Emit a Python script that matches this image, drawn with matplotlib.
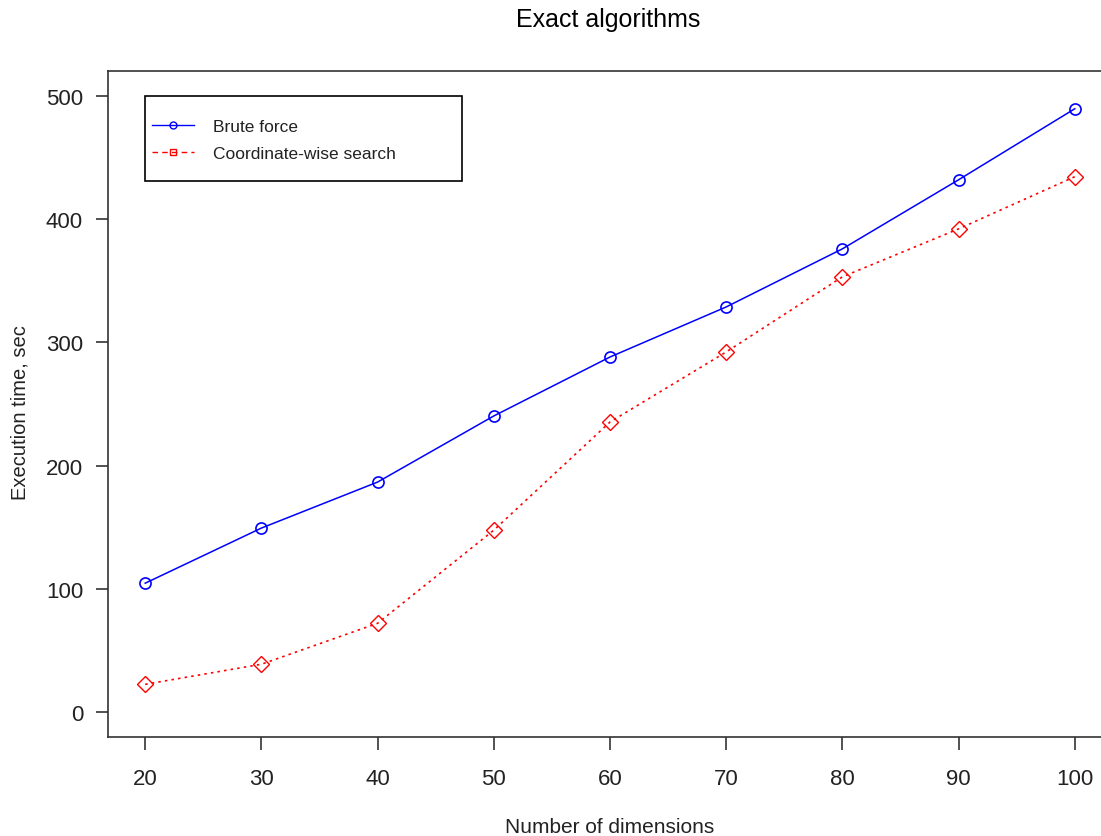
import matplotlib
matplotlib.use("Agg")
import matplotlib.pyplot as plt
from matplotlib.lines import Line2D
from matplotlib.patches import Rectangle

plt.rcParams['font.family'] = ['Liberation Sans', 'DejaVu Sans']

dims = [20, 30, 40, 50, 60, 70, 80, 90, 100]
brute_force = [104.7, 149.4, 186.7, 240.3, 288.1, 328.7, 375.8, 431.8, 489.4]
coord_search = [22.7, 39.0, 72.2, 147.7, 235.4, 292.2, 353.1, 392.0, 434.3]
x_ticks = [20, 30, 40, 50, 60, 70, 80, 90, 100]
y_ticks = [0, 100, 200, 300, 400, 500]

W, H = 1101, 837
fig = plt.figure(figsize=(W / 100, H / 100), dpi=100)
ax = fig.add_axes([108 / W, (H - 738) / H, (1112 - 108) / W, (738 - 72) / H])

ax.plot(dims, brute_force, color='blue', lw=1.1, marker='o', ms=8,
        mfc='none', mec='blue', mew=1.2)
ax.plot(dims, coord_search, color='red', lw=1.2, ls=(0, (1.5, 2.5)), marker='D', ms=8.5,
        mfc='none', mec='red', mew=1)

ax.set_xlim(16.8, 103.2)
ax.set_ylim(-20, 520)
ax.set_xticks(x_ticks)
ax.set_yticks(y_ticks)
for s in ax.spines.values():
    s.set_color('#333333')
    s.set_linewidth(1.2)
ax.tick_params(direction='out', length=9, width=1.2, color='#333333',
               labelsize=16, pad=9, labelcolor='#222222')
ax.tick_params(axis='x', pad=13)

fig.text(610 / W, 1 - 828 / H, 'Number of dimensions', ha='center', va='center',
         fontsize=15, color='#222222')
fig.text(20 / W, 1 - 413 / H, 'Execution time, sec', ha='center', va='center',
         rotation=90, fontsize=14.5, color='#222222')
fig.text(608 / W, 1 - 20 / H, 'Exact algorithms', ha='center', va='center', fontsize=18)

# legend frame (in figure pixels)
fig.patches.append(Rectangle((145 / W, 1 - 182 / H), (462 - 145) / W, (182 - 97) / H,
                             transform=fig.transFigure, fill=False,
                             edgecolor='black', linewidth=1.2))
handles = [
    Line2D([], [], color='blue', lw=1, marker='o', ms=5, mfc='none', mec='blue'),
    Line2D([], [], color='red', lw=1, ls=(0, (4, 3)), marker='s', ms=5, mfc='none', mec='red'),
]
leg = fig.legend(handles, ['Brute force', 'Coordinate-wise search'],
                 loc='upper left', bbox_to_anchor=(152 / W, 1 - 120 / H),
                 fontsize=12.5, frameon=False, handlelength=2.4,
                 handletextpad=1.1, borderpad=0, labelspacing=0.68, borderaxespad=0)
for t in leg.get_texts():
    t.set_color('#222222')

fig.savefig('out.png', dpi=100)
